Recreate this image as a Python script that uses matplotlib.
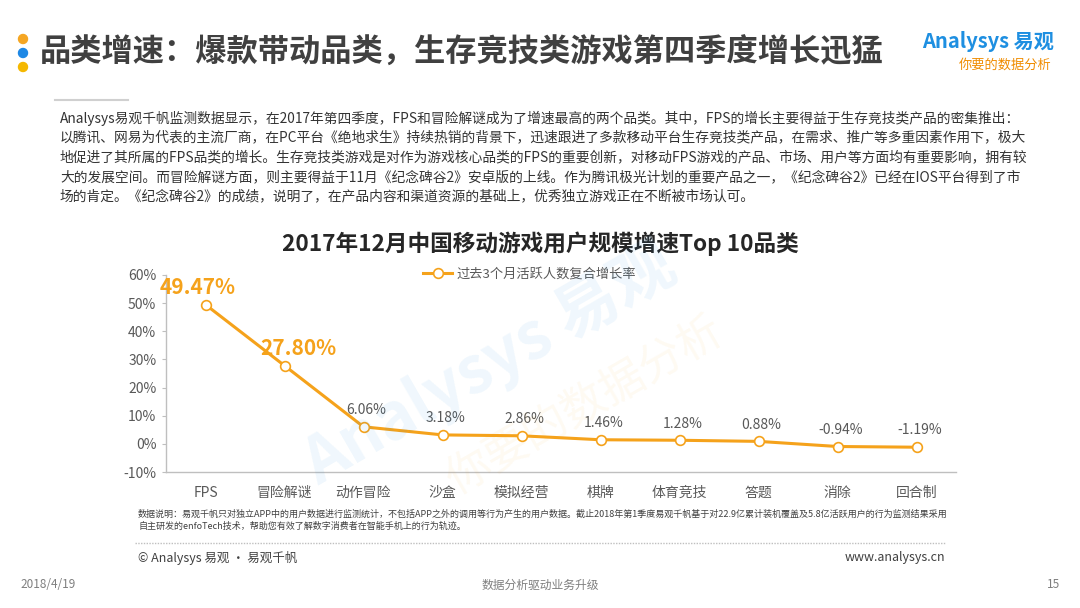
import matplotlib
matplotlib.use("Agg")
import matplotlib.pyplot as plt
from matplotlib.lines import Line2D
from matplotlib.patches import Circle

plt.rcParams['font.family'] = ['Noto Sans CJK SC', 'DejaVu Sans']

# ===== data =====
categories = ["FPS", "冒险解谜", "动作冒险", "沙盒", "模拟经营",
              "棋牌", "体育竞技", "答题", "消除", "回合制"]
growth = [49.47, 27.80, 6.06, 3.18, 2.86, 1.46, 1.28, 0.88, -0.94, -1.19]
y_ticks = [-10, 0, 10, 20, 30, 40, 50, 60]

ORANGE = "#F5A21B"
GRAY_TXT = "#595959"
DARK = "#404040"

fig = plt.figure(figsize=(10.8, 6.08), dpi=100)
W, H = 1080, 608

def fx(px):
    return px / W

def fy(py):
    return 1 - py / H

# ===== header =====
# three dots, drawn in inch units so they stay round
for py, c in [(39, "#F5A623"), (53, "#1E88E5"), (67, "#F5B800")]:
    fig.add_artist(Circle((0.23, (H - py) / 100), 0.045,
                          transform=fig.dpi_scale_trans, color=c))
fig.text(fx(40), fy(53), "品类增速：爆款带动品类，生存竞技类游戏第四季度增长迅猛",
         fontsize=22.5, fontweight='bold', color=DARK, va='center', ha='left')
fig.text(fx(1054), fy(41), "Analysys 易观", fontsize=14.5, color="#1E8FE1",
         fontweight='bold', va='center', ha='right')
fig.text(fx(1052), fy(65), "你要的数据分析", fontsize=9.5, color="#F08C00",
         style='italic', va='center', ha='right')

# short rule above paragraph
fig.add_artist(Line2D([fx(55), fx(128)], [fy(100), fy(100)], transform=fig.transFigure,
                      color="#D0D0D0", lw=1.5))

para = [
    "Analysys易观千帆监测数据显示，在2017年第四季度，FPS和冒险解谜成为了增速最高的两个品类。其中，FPS的增长主要得益于生存竞技类产品的密集推出：",
    "以腾讯、网易为代表的主流厂商，在PC平台《绝地求生》持续热销的背景下，迅速跟进了多款移动平台生存竞技类产品，在需求、推广等多重因素作用下，极大",
    "地促进了其所属的FPS品类的增长。生存竞技类游戏是对作为游戏核心品类的FPS的重要创新，对移动FPS游戏的产品、市场、用户等方面均有重要影响，拥有较",
    "大的发展空间。而冒险解谜方面，则主要得益于11月《纪念碑谷2》安卓版的上线。作为腾讯极光计划的重要产品之一，《纪念碑谷2》已经在IOS平台得到了市",
    "场的肯定。《纪念碑谷2》的成绩，说明了，在产品内容和渠道资源的基础上，优秀独立游戏正在不断被市场认可。",
]
for i, line in enumerate(para):
    fig.text(fx(60), fy(118 + i * 19.6), line, fontsize=9.9, color="#333333",
             va='center', ha='left')

# ===== chart =====
fig.text(fx(540), fy(244), "2017年12月中国移动游戏用户规模增速Top 10品类",
         fontsize=16.3, fontweight='bold', color="#262626", va='center', ha='center')

ax = fig.add_axes([fx(166), fy(472), fx(956) - fx(166), fy(275) - fy(472)])
x = list(range(len(categories)))
ax.plot(x, growth, color=ORANGE, lw=2.2, marker='o', markersize=7,
        markerfacecolor='white', markeredgecolor=ORANGE, markeredgewidth=1.2,
        label="过去3个月活跃人数复合增长率", zorder=3)

ax.set_xlim(-0.5, len(categories) - 0.5)
ax.set_ylim(-10, 60)
ax.set_yticks(y_ticks)
ax.set_yticklabels([f"{v}%" for v in y_ticks])
ax.set_xticks(x)
ax.set_xticklabels(categories)
ax.tick_params(axis='y', labelsize=10, colors=GRAY_TXT, length=3, color="#BFBFBF", pad=4)
ax.tick_params(axis='x', labelsize=10, colors=GRAY_TXT, length=0, pad=10)
for s in ["top", "right"]:
    ax.spines[s].set_visible(False)
for s in ["left", "bottom"]:
    ax.spines[s].set_color("#BFBFBF")
    ax.spines[s].set_linewidth(1)
ax.patch.set_alpha(0)

for i, v in enumerate(growth):
    label = f"{v:.2f}%"
    if i == 0:
        ax.annotate(label, (i, v), xytext=(-6, 5), textcoords='offset points',
                    ha='center', va='bottom', fontsize=15, fontweight='bold', color=ORANGE)
    elif i == 1:
        ax.annotate(label, (i, v), xytext=(10, 5), textcoords='offset points',
                    ha='center', va='bottom', fontsize=15, fontweight='bold', color=ORANGE)
    else:
        ax.annotate(label, (i, v), xytext=(2, 7), textcoords='offset points',
                    ha='center', va='bottom', fontsize=10, color=GRAY_TXT)

leg = ax.legend(loc='upper center', bbox_to_anchor=(0.46, 1.1), frameon=False,
                fontsize=9.5, handlelength=2.2, handletextpad=0.3)
for t in leg.get_texts():
    t.set_color(GRAY_TXT)

# watermark
fig.text(fx(490), fy(365), "Analysys 易观", fontsize=46, color="#1E8FE1", alpha=0.07,
         rotation=30, ha='center', va='center', fontweight='bold')
fig.text(fx(585), fy(405), "你要的数据分析", fontsize=32, color="#F5A623", alpha=0.06,
         rotation=30, ha='center', va='center')

# ===== footer =====
note = [
    "数据说明：易观千帆只对独立APP中的用户数据进行监测统计，不包括APP之外的调用等行为产生的用户数据。截止2018年第1季度易观千帆基于对22.9亿累计装机覆盖及5.8亿活跃用户的行为监测结果采用",
    "自主研发的enfoTech技术，帮助您有效了解数字消费者在智能手机上的行为轨迹。",
]
for i, line in enumerate(note):
    fig.text(fx(138), fy(514 + i * 12.5), line, fontsize=6.5, color="#404040",
             va='center', ha='left')

fig.add_artist(Line2D([fx(135), fx(945)], [fy(543), fy(543)], transform=fig.transFigure,
                      color="#BFBFBF", lw=1, linestyle=(0, (1, 1))))
fig.text(fx(138), fy(558), "© Analysys 易观 · 易观千帆", fontsize=9, color="#404040",
         va='center', ha='left')
fig.text(fx(945), fy(558), "www.analysys.cn", fontsize=9, color="#404040",
         va='center', ha='right')
fig.text(fx(20), fy(585), "2018/4/19", fontsize=8.5, color="#7F7F7F", va='center', ha='left')
fig.text(fx(540), fy(585), "数据分析驱动业务升级", fontsize=8.5, color="#7F7F7F",
         va='center', ha='center')
fig.text(fx(1060), fy(585), "15", fontsize=8.5, color="#7F7F7F", va='center', ha='right')

fig.savefig("out.png", dpi=100)
